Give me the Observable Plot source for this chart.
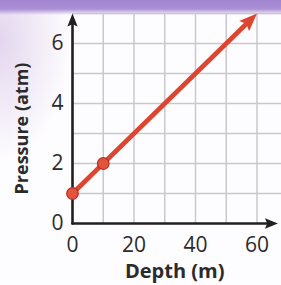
<!DOCTYPE html>
<html>
<head>
<meta charset="utf-8">
<script src="https://cdn.jsdelivr.net/npm/d3@7"></script>
<script src="https://cdn.jsdelivr.net/npm/@observablehq/plot@0.6"></script>
<style>
  html, body { margin: 0; padding: 0; }
  #chart {
    width: 281px; height: 285px; overflow: hidden;
    background:
      linear-gradient(to bottom, #a184cf 0px, #ab90d6 9px, rgba(255,255,255,0) 15px),
      radial-gradient(ellipse 70px 120px at 0px 40px, #e3d6ee 0%, rgba(255,255,255,0) 100%),
      #fdfcfe;
  }
  #chart svg { display: block; background: transparent; }
</style>
</head>
<body>
<div id="chart"></div>
<script>
// Data
const depth = [0, 10];          // marked points (m)
const pressure = [1, 2];        // marked points (atm)
const lineDepth = [0, 60];      // red arrow start / end (m)
const linePressure = [1, 7];    // red arrow start / end (atm)
const xTicks = [0, 20, 40, 60];
const yTicks = [0, 2, 4, 6];
const gridX = [10, 20, 30, 40, 50, 60];
const gridY = [1, 2, 3, 4, 5, 6, 7];
const xAxisEnd = 66.8;
const yAxisEnd = 7;
const gridXEnd = 68;
const xLabel = "Depth (m)";
const yLabel = "Pressure (atm)";

const W = 281, H = 285;
const mL = 72, mR = 24.5, mT = 13, mB = 62;
const kx = (W - mL - mR) / 60, ky = (H - mT - mB) / 7;

// arrowhead symbol with tip at origin, pointing up
const arrowHead = {
  draw(context, size) {
    const r = Math.sqrt(size / Math.PI);
    const L = 2.4 * r, w = 0.95 * r;
    context.moveTo(0, 0);
    context.lineTo(w, L);
    context.lineTo(0, L * 0.82);
    context.lineTo(-w, L);
    context.closePath();
  }
};

const pts = depth.map((d, i) => ({d, p: pressure[i]}));
const seg = [{x1: lineDepth[0], y1: linePressure[0], x2: lineDepth[1], y2: linePressure[1]}];
const redAngle = Math.atan2((lineDepth[1] - lineDepth[0]) * kx, (linePressure[1] - linePressure[0]) * ky) * 180 / Math.PI;

const red = "#de4531";
const axisColor = "#231f20";
const font = "'Open Sans', 'Noto Sans', sans-serif";

const plot = Plot.plot({
  width: W, height: H,
  marginLeft: mL, marginRight: mR, marginTop: mT, marginBottom: mB,
  x: {domain: [0, 60], axis: null},
  y: {domain: [0, 7], axis: null},
  style: {background: "transparent", fontFamily: font},
  marks: [
    Plot.ruleX(gridX, {y1: 0, y2: 7, stroke: "#c9c8cf", strokeWidth: 1.5}),
    Plot.ruleY(gridY, {x1: 0, x2: gridXEnd, stroke: "#c9c8cf", strokeWidth: 1.5}),
    // axes
    Plot.arrow([{x1: 0, y1: 0, x2: 0, y2: yAxisEnd}], {x1: "x1", y1: "y1", x2: "x2", y2: "y2", headLength: 0, insetEnd: 6, stroke: axisColor, strokeWidth: 2.6}),
    Plot.arrow([{x1: 0, y1: 0, x2: xAxisEnd, y2: 0}], {x1: "x1", y1: "y1", x2: "x2", y2: "y2", headLength: 0, insetEnd: 6, stroke: axisColor, strokeWidth: 2.6}),
    Plot.dot([{x: 0, y: yAxisEnd}], {x: "x", y: "y", symbol: arrowHead, r: 5.4, fill: axisColor, stroke: "none", rotate: 0}),
    Plot.dot([{x: xAxisEnd, y: 0}], {x: "x", y: "y", symbol: arrowHead, r: 5.4, fill: axisColor, stroke: "none", rotate: 90}),
    // tick labels
    Plot.text(xTicks, {x: d => d, y: 0, text: d => String(d), dy: 22, fontSize: 21, fill: "#2b2b2b", lineAnchor: "middle"}),
    Plot.text(yTicks, {x: 0, y: d => d, text: d => String(d), dx: -9, textAnchor: "end", fontSize: 21, fill: "#2b2b2b", lineAnchor: "middle"}),
    // red line
    Plot.arrow(seg, {x1: "x1", y1: "y1", x2: "x2", y2: "y2", headLength: 0, insetEnd: 10, stroke: red, strokeWidth: 4.6}),
    Plot.dot([{x: lineDepth[1], y: linePressure[1]}], {x: "x", y: "y", symbol: arrowHead, r: 7.5, fill: red, stroke: "none", rotate: redAngle}),
    Plot.dot(pts, {x: "d", y: "p", r: 5.8, fill: "#e4533d", stroke: "#b5301f", strokeWidth: 1.2}),
    // axis labels
    Plot.text([xLabel], {frameAnchor: "bottom", text: d => d, dx: 10, dy: 48, fontSize: 20, fontWeight: "bold", fill: "#2b2b2b", lineAnchor: "middle"}),
    Plot.text([yLabel], {frameAnchor: "left", textAnchor: "middle", text: d => d, dx: -50, dy: 10, rotate: -90, fontSize: 18, fontWeight: "bold", fill: "#2b2b2b", lineAnchor: "middle"})
  ]
});
document.getElementById("chart").appendChild(plot);
</script>
</body>
</html>
